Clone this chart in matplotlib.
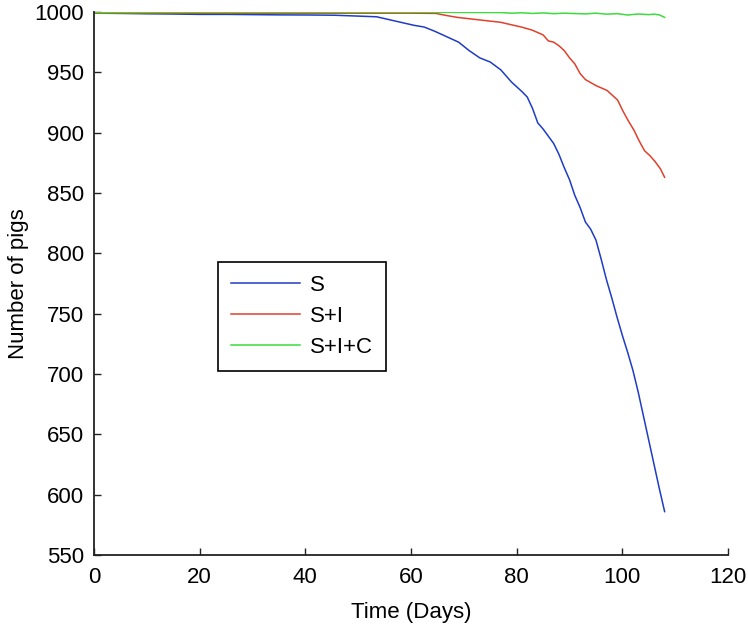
import matplotlib
matplotlib.use("Agg")
import matplotlib.pyplot as plt

# days and herd size
days_s = [0, 5, 10, 15, 20, 25, 30, 35, 40.5, 45.5, 50.5, 53.5, 55.5, 57.5, 60.5,
          62.5, 64.5, 67, 69, 71, 73, 75, 77, 79, 81, 82, 83, 84, 85, 87, 88, 89,
          90, 91, 92, 93, 94, 95, 96, 97, 98, 99, 100, 101, 102, 103, 104, 105,
          106, 107, 108]
pigs_s = [999, 998.8, 998.5, 998.3, 998, 998, 997.8, 997.6, 997.5, 997.3, 996.5,
          996, 994, 992, 989, 987.5, 984, 979, 975, 968, 962, 958.5, 952, 942,
          934, 929.5, 920, 908, 903, 891, 882, 871, 861, 848, 838, 826, 820, 811,
          795, 778, 763, 747, 732, 718, 703, 685, 665, 645, 625, 605, 586]

days_si = [0, 10, 20, 30, 40, 50, 60, 64.7, 66.8, 68.8, 70.8, 72.8, 74.8, 76.9,
           78.9, 80.9, 82.9, 85, 86, 87, 88, 89, 90, 91, 92, 93, 95, 97.1, 98.1,
           99.1, 100.1, 101.1, 102.2, 103.2, 104.2, 105.2, 106.2, 107.2, 108]
pigs_si = [999, 999, 999, 999, 999, 999, 999, 998.8, 997, 995.5, 994.5, 993.5,
           992.5, 991.5, 989.5, 987.5, 985, 981, 976, 975, 972, 968, 962, 957,
           949, 944, 939, 935, 931, 927, 918, 910, 902, 893, 885, 881, 876, 870, 863]

days_sic = [0, 20, 40, 60, 71, 77, 79, 81, 83, 85, 87, 89, 91, 93, 95, 97, 99,
            101, 103, 105, 106, 107, 108]
pigs_sic = [999.5, 999.8, 999.8, 999.8, 999.6, 999.5, 999, 999.3, 998.8, 999.2,
            998.6, 999, 998.7, 998.4, 999, 998.2, 998.6, 997.5, 998.3, 997.8,
            998.2, 997.6, 995.5]

plt.rcParams['font.family'] = ['Liberation Sans', 'DejaVu Sans']
plt.rcParams['font.size'] = 16

fig = plt.figure(figsize=(7.48, 6.3), dpi=100)
ax = fig.add_axes([0.1257, 0.119, 0.8476, 0.862])

ax.plot(days_s, pigs_s, color='#1f3cc4', lw=1.1, label='S')
ax.plot(days_si, pigs_si, color='#e0402c', lw=1.1, label='S+I')
ax.plot(days_sic, pigs_sic, color='#3cdc3c', lw=1.1, label='S+I+C')

ax.set_xlim(0, 120)
ax.set_ylim(550, 1000)
ax.set_xticks(range(0, 121, 20))
ax.set_yticks(range(550, 1001, 50))
ax.set_xlabel('Time (Days)', labelpad=10.5)
ax.set_ylabel('Number of pigs', labelpad=4)

ax.spines['top'].set_visible(False)
ax.spines['right'].set_visible(False)
for side in ['left', 'bottom']:
    ax.spines[side].set_linewidth(1.3)
    ax.spines[side].set_color('#222222')
ax.tick_params(direction='in', length=5, width=1, colors='#222222',
               labelcolor='black')
ax.tick_params(axis='x', pad=8.5)
ax.tick_params(axis='y', pad=7)

# legend box edges read as axes fractions
leg = ax.legend(loc='upper left', bbox_to_anchor=(0.195, 0.54), fancybox=False,
                edgecolor='black', framealpha=1, handlelength=3.1,
                handletextpad=0.45, labelspacing=0.45, borderpad=0.6,
                borderaxespad=0)
leg.get_frame().set_linewidth(1.2)

fig.savefig('out.png', dpi=100)
